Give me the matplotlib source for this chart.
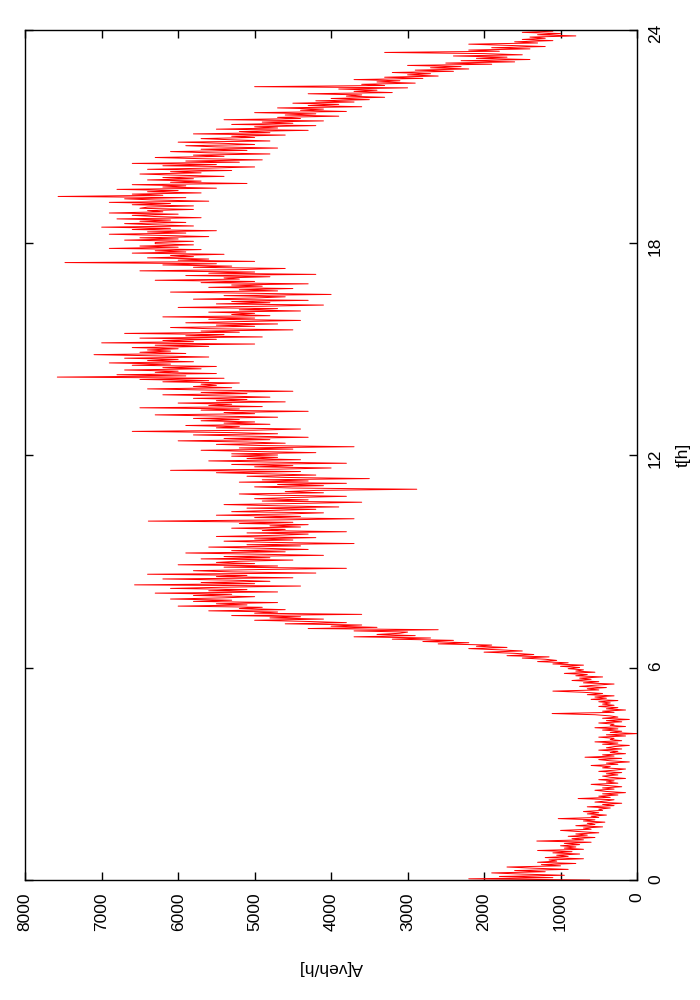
import numpy as np
import matplotlib
matplotlib.use('Agg')
import matplotlib.pyplot as plt

plt.rcParams['font.family'] = ['Liberation Sans', 'DejaVu Sans']

# flow A [veh/h], one value every 2 minutes (30 per hour)
night = [  # 0h - 6h
    620, 2200, 1100, 1800, 950, 1500, 1900, 1200, 1600, 900, 1350, 1700, 1000, 1250, 800,
    1300, 1050, 1150, 700, 1200, 900, 1050, 750, 1100, 850, 1300, 700, 950, 800, 1000,
    750, 950, 600, 1310, 700, 850, 550, 900, 650, 800, 500, 750, 1000, 600, 700,
    450, 800, 550, 650, 420, 700, 550, 1030, 500, 600, 400, 650, 500, 700, 450,
    500, 350, 650, 300, 450, 200, 550, 400, 300, 770, 350, 500, 250, 450, 150,
    400, 550, 300, 450, 200, 380, 600, 250, 400, 300, 500, 150, 350, 450, 250,
    400, 200, 500, 300, 150, 450, 350, 600, 250, 400, 100, 350, 500, 200, 680,
    300, 450, 150, 350, 250, 500, 200, 400, 300, 100, 450, 250, 550, 200, 350,
    300, 500, 150, 400, 0, 350, 200, 450, 250, 550, 150, 350, 300, 500, 200,
    400, 100, 450, 250, 350, 550, 1110, 300, 450, 150, 400, 250, 500, 300, 450,
    350, 500, 250, 600, 400, 550, 300, 650, 450, 700, 1100, 500, 650, 400, 750,
    550, 300, 700, 500, 850, 600, 750, 450, 800, 650, 950, 550, 800, 700, 900,
]
morning = [  # 6h - 12h
    750, 1000, 700, 1100, 900, 1300, 1050, 1200, 1500, 1150, 1700, 1350, 1600, 2000, 1500,
    1800, 2200, 1700, 2100, 1900, 2600, 2200, 2800, 2400, 3200, 2700, 3700, 2900, 3400, 3100,
    3000, 3700, 2600, 4300, 3400, 4000, 3600, 4600, 3800, 4300, 5000, 4100, 4800, 4400, 5300,
    3600, 5000, 4700, 5600, 4600, 5200, 4900, 6000, 5100, 5500, 4700, 5800, 5300, 6100, 5400,
    5000, 5800, 5300, 6300, 4700, 5600, 5100, 6100, 5400, 4400, 6570, 5000, 5700, 4800, 5300,
    6200, 4500, 5500, 5100, 6400, 4200, 5300, 5800, 4900, 3800, 5400, 4700, 6000, 5000, 5500,
    5200, 4500, 5700, 4800, 5400, 4100, 5000, 5900, 4600, 5300, 4300, 4900, 5600, 4400, 5100,
    3700, 4800, 5400, 4500, 5000, 4200, 5500, 4700, 4300, 5100, 3800, 4900, 4600, 5300, 4400,
    4800, 4300, 5200, 4500, 6390, 4700, 3700, 5000, 4400, 5500, 4600, 4100, 5300, 4800, 4200,
    5100, 3900, 4700, 5400, 4400, 3600, 4900, 4300, 5000, 4500, 3800, 4800, 5200, 4100, 4600,
    4200, 2880, 4500, 5000, 4100, 4700, 3800, 5200, 4300, 4900, 3500, 4600, 5100, 4200, 4800,
    5500, 4400, 6100, 4700, 4000, 5000, 4500, 5300, 3800, 4800, 5600, 4400, 5100, 4700, 5300,
]
afternoon = [  # 12h - 18h
    4700, 5300, 4200, 5000, 5700, 4500, 5200, 3700, 4900, 5500, 4600, 5100, 6000, 4800, 5400,
    4300, 5100, 5800, 4700, 5300, 6600, 5000, 4400, 5500, 5200, 5900, 4800, 5400, 5000, 5700,
    5200, 5800, 4700, 5500, 6300, 5000, 5400, 4300, 5700, 5200, 6500, 4900, 5600, 5300, 6000,
    4600, 5500, 5100, 5800, 4800, 5400, 6200, 5100, 5700, 4500, 5600, 6400, 5300, 5800, 5500,
    5700, 5200, 6200, 5600, 6500, 5400, 7580, 5900, 6800, 5500, 6300, 6000, 6700, 5700, 6200,
    5500, 6600, 6100, 6900, 5800, 6400, 6000, 6700, 5600, 6300, 7100, 5900, 6500, 6100, 6400,
    6000, 6600, 5600, 6300, 5000, 7000, 5800, 6200, 5500, 6500, 4900, 5900, 5400, 6700, 5200,
    5700, 4500, 5600, 6100, 5000, 5500, 4700, 5900, 5200, 4400, 5600, 5000, 6200, 4800, 5300,
    5000, 5600, 4400, 5200, 4700, 6000, 4900, 4100, 5500, 4800, 5300, 4300, 5800, 5000, 4600,
    5400, 4000, 5100, 6100, 4700, 5200, 4500, 5600, 4900, 5300, 4300, 5700, 5000, 6300, 5200,
    5400, 4800, 5900, 4200, 5600, 5000, 6500, 5200, 4600, 5800, 5300, 6200, 5500, 7480, 5000,
    6000, 5600, 6400, 5800, 6100, 5400, 6600, 5900, 6300, 5700, 6900, 6000, 6500, 5800, 6300,
]
evening = [  # 18h - 24h
    6300, 5800, 6700, 6000, 6500, 5600, 6200, 6900, 5900, 6400, 5500, 6600, 6100, 7000, 5800,
    6300, 6700, 5900, 6500, 6100, 6800, 5700, 6300, 6600, 6000, 6900, 6200, 6400, 5800, 6500,
    6400, 5800, 6600, 6100, 6900, 5600, 6300, 6700, 5900, 7570, 6200, 6600, 5700, 6400, 6000,
    6800, 5500, 6200, 5900, 6600, 5100, 6100, 5700, 6400, 5800, 6200, 5400, 6000, 6500, 5700,
    6100, 5300, 6400, 5600, 5000, 6200, 5500, 6600, 5200, 5900, 4900, 5700, 6300, 5400, 5800,
    4800, 5600, 6100, 5100, 5700, 4700, 5500, 5900, 5000, 5400, 6000, 4800, 5300, 5700, 5000,
    5300, 4600, 5800, 4800, 5200, 4300, 5500, 4700, 5000, 4200, 5300, 4500, 4900, 4100, 5400,
    4400, 4700, 3900, 4600, 4200, 5000, 3800, 4400, 4100, 4700, 3600, 4300, 3900, 4500, 3700,
    4200, 3500, 4000, 3300, 3800, 3600, 4300, 3200, 3700, 3400, 3900, 3000, 5000, 3300, 3600,
    2900, 3400, 3100, 3700, 2800, 3300, 2600, 3000, 2700, 3200, 2400, 2900, 2200, 2700, 2300,
    3000, 1900, 2500, 1600, 2300, 1400, 2100, 1700, 2400, 1500, 2000, 3300, 1800, 2200, 1400,
    1900, 1200, 1700, 2200, 1300, 1600, 1100, 1500, 1200, 1400, 800, 1300, 1000, 1500, 1100,
    1200,
]

flow = np.array(night + morning + afternoon + evening, dtype=float)
hours = np.arange(len(flow)) * 2 / 60.0

a_ticks = list(range(0, 8001, 1000))
t_ticks = [0, 6, 12, 18, 24]

fig = plt.figure(figsize=(7, 10), dpi=100)
ax = fig.add_axes([0.036, 0.12, 0.874, 0.85])

# the gnuplot figure is turned on its side: time runs up, flow runs left
ax.plot(flow, hours, color='red', lw=0.7)

ax.set_xlim(8000, 0)
ax.set_ylim(0, 24)
ax.set_xticks(a_ticks)
ax.set_yticks(t_ticks)

ax.yaxis.tick_right()
ax.yaxis.set_label_position('right')
ax.tick_params(axis='both', direction='in', length=6, width=1,
               top=True, bottom=True, left=True, right=True,
               labelsize=12.5, labelrotation=90)
ax.tick_params(axis='x', pad=9)
ax.tick_params(axis='y', pad=8, labelleft=False, labelright=True)

ax.set_ylabel('t[h]', rotation=90, fontsize=12.5, labelpad=9)
ax.set_xlabel('A[veh/h]', rotation=180, fontsize=12.5, labelpad=21)

for s in ax.spines.values():
    s.set_linewidth(1.0)

fig.savefig('out.png', dpi=100)
